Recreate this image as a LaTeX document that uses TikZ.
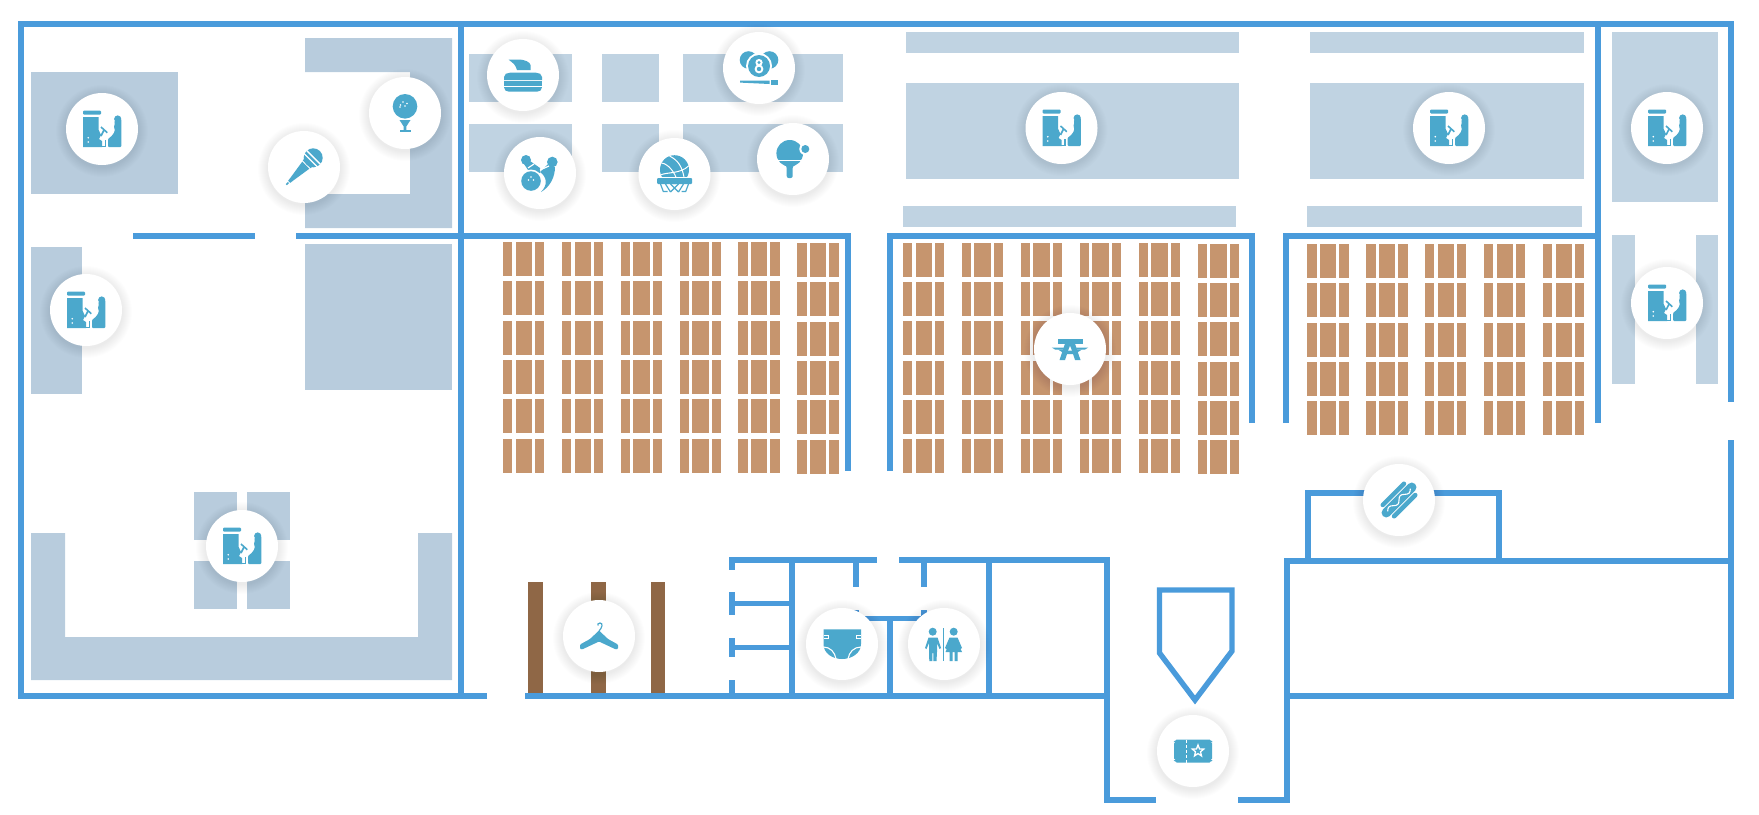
\documentclass[tikz,border=0pt]{standalone}
\usepackage{tikz}

\definecolor{wallblue}{HTML}{4A9BDB}
\definecolor{iconblue}{HTML}{4BA8CC}
\definecolor{blockleft}{HTML}{B8CCDD}
\definecolor{blockright}{HTML}{C0D3E2}
\definecolor{seatbrown}{HTML}{C6956E}
\definecolor{rackbrown}{HTML}{8F6746}

\tikzset{
	bench/.pic={
		\fill[seatbrown] (0,0) rectangle (9.3,34);
		\fill[seatbrown] (12.7,0) rectangle (29,34);
		\fill[seatbrown] (32,0) rectangle (41.3,34);
	},
	arcade/.pic={
		\fill[iconblue,rounded corners=1pt] (-19,-18.5) rectangle (-1,-14.5);
		\fill[iconblue] (-19,-12) -- (-3.3,-12) -- (-3.3,1) -- (-1,6) -- (-3,10) -- (0,12) -- (0,18) -- (-19,18) -- cycle;
		\fill[iconblue] (2.6,11) rectangle (4.2,18);
		\fill[iconblue] (-1,16.5) rectangle (4.2,18);
		\fill[white] (-13.7,8.7) circle (.9pt) (-13.7,13) circle (.9pt);
		\draw[iconblue,line width=1.6] (-1,-2) -- (5.3,3.7) (2,1) -- (-1,7);
		\fill[iconblue] (15.7,-10) circle (3.6pt);
		\fill[iconblue,rounded corners=1pt] (19.3,-10) -- (19.3,18) -- (6,18) -- (6,10) -- (10,6.7) -- (12.5,3) -- (12.5,-1) -- (11.8,-3) -- (13,-5) -- (12.2,-8) -- cycle;
	},
	mic/.pic={
		\begin{scope}[rotate=45]
			\fill[iconblue] (-25,-.8) rectangle (-22,.8);
			\fill[iconblue] (-21,-1.5) -- (-17,-2) -- (2.5,-5) -- (2.5,5) -- (-17,2) -- (-21,1.5) -- cycle;
			\fill[iconblue] (3.8,-5.5) rectangle (6.2,5.5);
			\fill[iconblue] (13,0) circle (9.5pt);
			\draw[white,line width=1.3] (9.5,-10) -- (9.5,10) (13.5,-10) -- (13.5,10);
		\end{scope}
	},
	golf/.pic={
		\fill[iconblue] (0,-6.7) circle (12.3pt);
		\fill[white] (-4.5,-8) circle (.8pt) (-2,-11) circle (.8pt) (0,-7) circle (.8pt) (2,-9.5) circle (.8pt) (-5,-6) circle (.8pt);
		\fill[iconblue] (-5.5,7) -- (5.5,7) -- (1.3,13.5) -- (1.3,17) -- (-1.3,17) -- (-1.3,13.5) -- cycle;
		\fill[iconblue] (-5.5,17) rectangle (5.5,19);
	},
	curling/.pic={
		\fill[iconblue] (-14.5,-15.5) -- (-3,-15.5) .. controls (2,-15) and (7,-13) .. (7.5,-10) -- (7.5,-5) -- (-6,-5) .. controls (-7.5,-7) and (-7,-10) .. (-9,-11) -- cycle;
		\fill[iconblue] (-19,5.2) -- (-19,2) .. controls (-19,-1) and (-16,-2.3) .. (-13,-2.3) -- (13,-2.3) .. controls (16,-2.3) and (19,-1) .. (19,2) -- (19,5.2) -- cycle;
		\fill[iconblue] (-19,6.4) rectangle (19,11);
		\fill[iconblue] (-19,12.2) -- (19,12.2) .. controls (19,15) and (17,16.7) .. (14,16.7) -- (-14,16.7) .. controls (-17,16.7) and (-19,15) .. (-19,12.2) -- cycle;
	},
	billiard/.pic={
		\fill[iconblue] (-10.5,-8) circle (8.8pt) (10.5,-8) circle (8.8pt);
		\fill[white] (0,-2) circle (13pt);
		\fill[iconblue] (0,-2) circle (11pt);
		\fill[white] (0,-5.5) circle (3.6pt) (0,1) circle (4.4pt);
		\fill[iconblue] (0,-5.5) circle (1.6pt) (0,1) circle (2.2pt);
		\fill[iconblue] (-19,12.7) -- (10.5,12.5) -- (10.5,16) -- (-19,14.6) -- cycle;
		\fill[iconblue] (11.5,12) rectangle (18.5,17);
	},
	bowling/.pic={
		\fill[iconblue] (-14,-13) circle (5pt);
		\fill[iconblue] (-16,-9) -- (-10,-12) -- (0,-5) -- (0,0) -- (-10,0) -- cycle;
		\fill[iconblue] (12.3,-11) circle (5.3pt);
		\fill[iconblue] (8,-9) -- (15,-6) .. controls (15,4) and (10,14) .. (1,19) .. controls (8,12) and (7,4) .. (0,-1) -- cycle;
		\draw[white,line width=1.2] (-12,-5) -- (-6,-9) (0,-3) -- (9,-7);
		\fill[white] (-9,8) circle (11.5pt);
		\fill[iconblue] (-9,8) circle (9.8pt);
		\fill[white] (-9,4) circle (.8pt) (-11.5,7) circle (.8pt) (-6.5,7) circle (.8pt);
	},
	basket/.pic={
		\fill[iconblue] (0,-4.3) circle (14.5pt);
		\draw[white,line width=1] (-13,-11) .. controls (-6,-10) and (0,-2) .. (3,7);
		\draw[white,line width=1] (-5,-18) .. controls (3,-14) and (8,-8) .. (10,6);
		\draw[white,line width=1] (-14,1) .. controls (-8,-2) and (6,0) .. (14,-8);
		\fill[white] (-18,2.5) rectangle (18,4.5);
		\fill[iconblue,rounded corners=1pt] (-17.5,4) rectangle (17.5,10);
		\draw[iconblue,line width=1.2] (-14,10) -- (-11,18) (14,10) -- (11,18) (-11,17.5) -- (-7,17.5) (7,17.5) -- (11,17.5) (-9,10) -- (-4,18) (-4,18) -- (4,10) (9,10) -- (4,18) (-4,10) -- (4,18);
	},
	pingpong/.pic={
		\fill[iconblue] (-3.3,-5.7) circle (13.3pt);
		\fill[white] (-17,1) rectangle (11,2.2);
		\fill[white] (12.3,-10) circle (6pt);
		\fill[iconblue] (12.3,-10) circle (4pt);
		\fill[iconblue,rounded corners=2pt] (-6.3,6) rectangle (-.3,19);
		\fill[iconblue] (-9,3) -- (2.5,3) -- (-.5,9) -- (-6,9) -- cycle;
	},
	picnic/.pic={
		\fill[iconblue] (-12.3,-10.5) rectangle (13.3,-5.3);
		\fill[iconblue] (-5,-5.3) -- (5,-5.3) -- (10.5,11) -- (5,11) -- (3,5) -- (-3,5) -- (-5,11) -- (-10.5,11) -- cycle;
		\fill[white] (0,-3) -- (1.8,1.5) -- (-1.8,1.5) -- cycle;
		\fill[iconblue] (-18.3,-1.5) -- (-6,-1.5) -- (-6.5,.5) -- (-15,.5) -- cycle;
		\fill[iconblue] (6,-1.5) -- (18.3,-1.5) -- (15,.5) -- (6.5,.5) -- cycle;
		\fill[iconblue] (-12,.5) -- (-6.5,.5) -- (-6.5,4) -- cycle;
		\fill[iconblue] (12,.5) -- (6.5,.5) -- (6.5,4) -- cycle;
	},
	hanger/.pic={
		\fill[iconblue,rounded corners=1pt] (-19,8.5) -- (-9,3) -- (0,-5.5) -- (9,3) -- (19,8.5) -- (19,13) -- (17,13.5) -- (0,5.5) -- (-17,13.5) -- (-19,13) -- cycle;
		\draw[iconblue,line width=1.2] (0,-5) .. controls (3,-8) and (4.5,-13) .. (1,-13) .. controls (-1,-13) and (-1.5,-11.5) .. (-1,-10.5);
	},
	diaper/.pic={
		\fill[iconblue] (-18.5,-14.7) -- (19,-14.7) -- (19,0) .. controls (19,9) and (10,15) .. (0,15) .. controls (-10,15) and (-18.5,9) .. (-18.5,0) -- cycle;
		\draw[white,line width=1.1] (-18.5,3) .. controls (-12,3) and (-7,8) .. (-6,15);
		\draw[white,line width=1.1] (19,3) .. controls (12,3) and (7,8) .. (6,15);
		\draw[white,line width=1] (-18.5,-9) -- (-14,-9) -- (-14,-5.5) -- (-18.5,-5.5);
		\draw[white,line width=1] (19,-9) -- (14,-9) -- (14,-5.5) -- (19,-5.5);
	},
	toilet/.pic={
		\fill[iconblue] (-11.3,-12.3) circle (4pt) (9.7,-12.3) circle (4pt);
		\fill[iconblue] (-1.1,-15.7) rectangle (-.1,16.7);
		\fill[iconblue] (-15.5,-6.5) -- (-6.5,-6.5) -- (-3,4) -- (-4.5,5) -- (-7,-1) -- (-7,8) -- (-7.5,17) -- (-10.7,17) -- (-10.7,9) -- (-11.7,9) -- (-11.7,17) -- (-14.7,17) -- (-15,8) -- (-15,-1) -- (-17.5,5) -- (-19,4) -- cycle;
		\fill[iconblue] (5.5,-6.5) -- (13.5,-6.5) -- (18,4) -- (16.5,5) -- (14,0) -- (18,8) -- (13.5,8) -- (13.5,17) -- (10.5,17) -- (10.5,8) -- (8.5,8) -- (8.5,17) -- (5.5,17) -- (5.5,8) -- (1.5,8) -- (5,0) -- (2.5,5) -- (1,4) -- cycle;
	},
	hotdog/.pic={
		\begin{scope}[rotate=45]
			\draw[iconblue,line width=9.5,line cap=round] (-18,0) -- (18,0);
			\draw[iconblue,line width=4.5,line cap=round] (-15,-8) -- (15,-8);
			\draw[iconblue,line width=4.5,line cap=round] (-15,8) -- (15,8);
			\draw[white,line width=1.1] (-16,0) .. controls (-13,-3) and (-11,-3) .. (-8,0) .. controls (-5,3) and (-3,3) .. (0,0) .. controls (3,-3) and (5,-3) .. (8,0) .. controls (11,3) and (13,3) .. (16,0);
		\end{scope}
	},
	ticket/.pic={
		\fill[iconblue,rounded corners=1.5pt] (-18,-11.5) -- (18,-11.5) -- (18,-9) -- (19,-9) -- (19,9) -- (18,9) -- (18,11.5) -- (-18,11.5) -- (-18,9) -- (-19,9) -- (-19,-9) -- (-18,-9) -- cycle;
		\draw[white,line width=1,dash pattern=on 3pt off 2pt] (-7,-11.5) -- (-7,11.5);
		\draw[white,fill=iconblue,line width=1.3] (5,-6) -- (6.5,-2.1) -- (10.7,-1.9) -- (7.5,.8) -- (8.5,4.9) -- (5,2.6) -- (1.5,4.9) -- (2.5,.8) -- (-.7,-1.9) -- (3.5,-2.1) -- cycle;
	}
}

\newcommand{\hubat}[4]{
	\foreach \rr in {37,...,46} \fill[black,opacity=.007] (#2,#3+2) circle (\rr pt);
	\draw node [hub] (#1) at (#2,#3) {};
	\pic at (#1) {#4};
}

\begin{document}
\begin{tikzpicture}[x=1pt,y=-1pt]
	\tikzstyle{wall} = [draw=wallblue, line width=5.4pt, miter limit=10];
	\tikzstyle{hub} = [circle, fill=white, minimum size=72pt, inner sep=0pt];
	\useasboundingbox (0,0) rectangle (1759,814);

	% left room
	\fill[blockleft] (31,72) rectangle (178,194);
	\fill[blockleft] (305,38) -- (452,38) -- (452,228) -- (305,228) -- (305,194) -- (410,194) -- (410,72) -- (305,72) -- cycle;
	\fill[blockleft] (31,247) rectangle (82,394);
	\fill[blockleft] (305,244) rectangle (452,390);
	\fill[blockleft] (31,533) -- (65,533) -- (65,637) -- (418,637) -- (418,533) -- (452,533) -- (452,680) -- (31,680) -- cycle;
	\foreach \bx in {194,247} \foreach \by in {491.5,561} \fill[blockleft] (\bx,\by) rectangle +(43,48);

	% games and long blocks
	\foreach \by in {54,124} {
		\fill[blockright] (469,\by) rectangle +(103,48);
		\fill[blockright] (602,\by) rectangle +(57,48);
		\fill[blockright] (683,\by) rectangle +(160,48);
	}
	\fill[blockright] (905.5,32) rectangle (1239,53);
	\fill[blockright] (905.5,83) rectangle (1239,179);
	\fill[blockright] (903,206) rectangle (1236,227);
	\fill[blockright] (1310,32) rectangle (1584,53);
	\fill[blockright] (1310,83) rectangle (1584,179);
	\fill[blockright] (1307,206) rectangle (1582,227);
	\fill[blockright] (1612,32) rectangle (1718,202);
	\fill[blockright] (1612,235) rectangle (1635,384);
	\fill[blockright] (1696,235) rectangle (1718,384);

	% seats
	\foreach \cx in {503,562,620.7,679.5,738.3} \foreach \rw in {0,...,5} \pic at (\cx,242+39.35*\rw) {bench};
	\foreach \rw in {0,...,5} \pic at (797.3,243+39.35*\rw) {bench};
	\foreach \cx in {903,961.7,1020.7,1079.7,1138.7} \foreach \rw in {0,...,5} \pic at (\cx,242.7+39.35*\rw) {bench};
	\foreach \rw in {0,...,5} \pic at (1197.7,243.7+39.35*\rw) {bench};
	\foreach \cx in {1307.3,1366.3,1425,1484,1543} \foreach \rw in {0,...,4} \pic at (\cx,244+39.35*\rw) {bench};

	% coat racks
	\foreach \bx in {528.3,591.3,650.7} \fill[rackbrown] (\bx,581.5) rectangle +(14.4,112.5);

	% walls
	\draw [wall] (487,696) -- (21,696) -- (21,24) -- (1731,24) -- (1731,402);
	\draw [wall] (461,24) -- (461,696);
	\draw [wall] (133,236) -- (255,236);
	\draw [wall] (296,236) -- (848,236) -- (848,471);
	\draw [wall] (890,471) -- (890,236) -- (1252,236) -- (1252,423);
	\draw [wall] (1286,423) -- (1286,236) -- (1598,236);
	\draw [wall] (1598,24) -- (1598,423);
	\draw [wall] (525,696) -- (1107,696);
	\draw [wall] (729,560) -- (877,560);
	\draw [wall] (899,560) -- (1107,560) -- (1107,800) -- (1156,800);
	\draw [wall] (1238,800) -- (1287,800) -- (1287,561) -- (1731,561);
	\draw [wall] (1731,440) -- (1731,696) -- (1287,696);
	\draw [wall] (1308,561) -- (1308,493) -- (1499,493) -- (1499,561);
	\draw [wall] (1159.5,590) -- (1232,590) -- (1232,651) -- (1195,700) -- (1159.5,653) -- cycle;

	% rest rooms
	\draw [wall] (732,560) -- (732,570);
	\draw [wall] (732,592) -- (732,615);
	\draw [wall] (732,638) -- (732,657);
	\draw [wall] (732,680) -- (732,696);
	\draw [wall] (732,603.5) -- (792,603.5);
	\draw [wall] (732,647.5) -- (792,647.5);
	\draw [wall] (792,560) -- (792,696);
	\draw [wall] (856,560) -- (856,587);
	\draw [wall] (924,560) -- (924,587);
	\draw [wall] (856,610) -- (856,618.5) -- (924,618.5) -- (924,610);
	\draw [wall] (890,618.5) -- (890,696);
	\draw [wall] (989,560) -- (989,696);

	% icons
	\hubat{arcadeA}{102}{129}{arcade}
	\hubat{arcadeB}{86}{310}{arcade}
	\hubat{arcadeC}{242}{546}{arcade}
	\hubat{arcadeD}{1061.5}{128}{arcade}
	\hubat{arcadeE}{1449}{128}{arcade}
	\hubat{arcadeF}{1667}{128}{arcade}
	\hubat{arcadeG}{1667}{303}{arcade}
	\hubat{micA}{304}{167}{mic}
	\hubat{golfA}{405}{113}{golf}
	\hubat{curlingA}{523}{75}{curling}
	\hubat{bowlingA}{540}{173}{bowling}
	\hubat{basketA}{674.5}{174}{basket}
	\hubat{billiardA}{759}{68}{billiard}
	\hubat{pingpongA}{793}{159}{pingpong}
	\hubat{picnicA}{1070}{349}{picnic}
	\hubat{hotdogA}{1399}{500}{hotdog}
	\hubat{hangerA}{599}{636}{hanger}
	\hubat{diaperA}{842}{644}{diaper}
	\hubat{toiletA}{944}{644}{toilet}
	\hubat{ticketA}{1193}{751}{ticket}
\end{tikzpicture}
\end{document}
